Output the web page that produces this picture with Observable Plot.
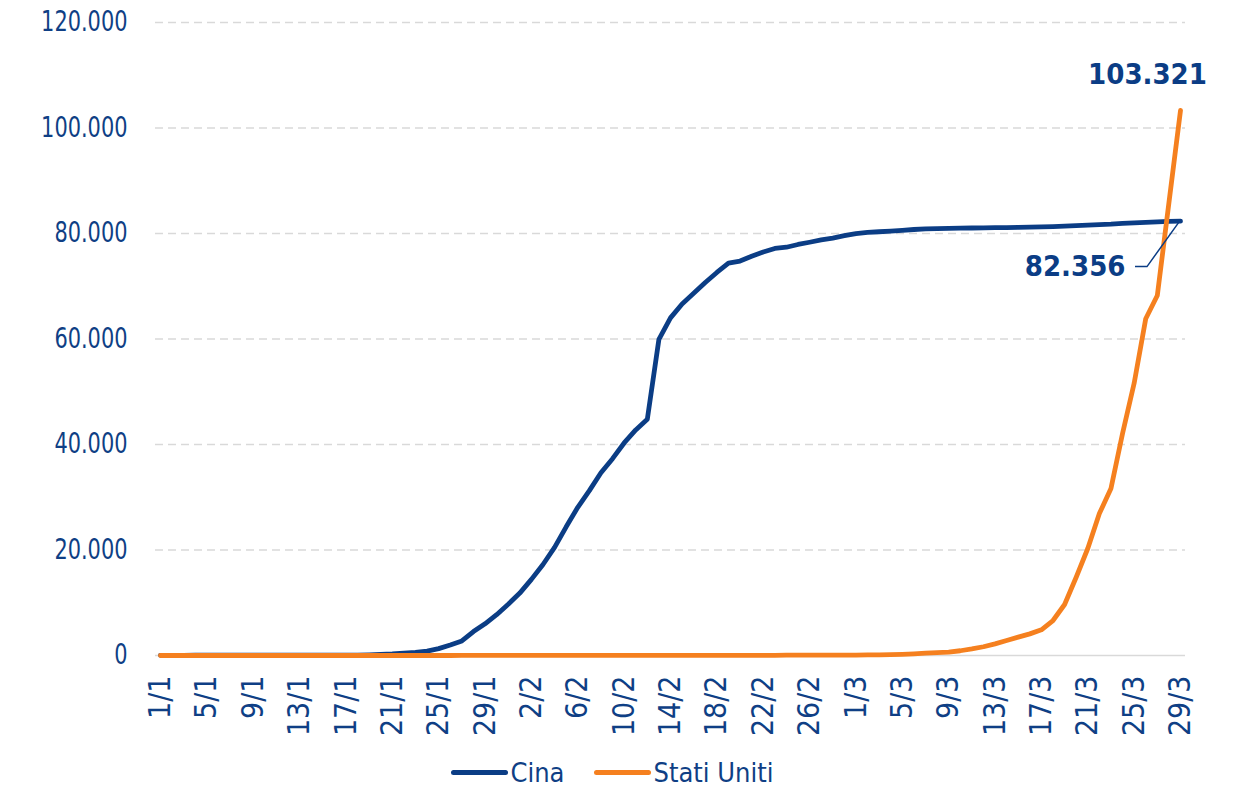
<!DOCTYPE html>
<html>
<head>
<meta charset="utf-8">
<script src="https://cdn.jsdelivr.net/npm/d3@7"></script>
<script src="https://cdn.jsdelivr.net/npm/@observablehq/plot@0.6"></script>
<style>
  html, body { margin: 0; padding: 0; background: #fff; }
  body { width: 1236px; font-family: "DejaVu Sans Condensed", "DejaVu Sans", sans-serif; font-stretch: condensed; }
  #legend { display: flex; justify-content: center; align-items: center; height: 33px;
            font-size: 27px; line-height: 27px; color: #0f3f85; padding-right: 11px; gap: 30px; }
  #legend .item { display: flex; align-items: center; }
  #legend .sw { display: inline-block; width: 57px; height: 5px; border-radius: 3px; margin-right: 2px; }
</style>
</head>
<body>
<div id="chart"></div>
<div id="legend"></div>
<script>
// ---- data (cumulative confirmed cases, 1/1/2020 .. 29/3/2020, daily) ----
const startDay = "2020-01-01";
const seriesNames = ["Cina", "Stati Uniti"];
const seriesColors = ["#0b3d85", "#f5801f"];

const china = [
  // January
  27, 27, 27, 44, 44, 59, 59, 59, 59, 59, 59, 59, 59, 59, 59, 59, 59, 64, 123, 200,
  294, 442, 575, 836, 1296, 1985, 2761, 4537, 6000, 7742, 9729,
  // February
  11833, 14426, 17256, 20498, 24396, 28100, 31255, 34654, 37313, 40291, 42764, 44786,
  59945, 64000, 66650, 68665, 70720, 72614, 74370, 74770, 75670, 76505, 77170, 77400,
  77920, 78340, 78790, 79140, 79590,
  // March
  79990, 80200, 80335, 80460, 80610, 80760, 80870, 80925, 80975, 81005, 81040, 81070,
  81105, 81130, 81170, 81210, 81260, 81310, 81390, 81480, 81570, 81670, 81760, 81900,
  82010, 82120, 82210, 82290, 82356
];

const usa = [
  // January
  0, 0, 0, 0, 0, 0, 0, 0, 0, 0, 0, 0, 0, 0, 0, 0, 0, 0, 0, 0,
  1, 1, 1, 2, 2, 2, 5, 5, 5, 5, 6,
  // February
  7, 8, 11, 11, 11, 12, 12, 12, 12, 12, 13, 13, 14, 15, 15, 15, 15, 15, 15, 15,
  35, 35, 35, 53, 53, 59, 60, 62, 68,
  // March
  75, 100, 124, 158, 221, 319, 435, 541, 630, 900, 1250, 1660, 2210, 2850, 3480, 4100,
  4870, 6630, 9670, 14840, 20280, 26900, 31660, 42100, 51600, 63830, 68250, 85800, 103321
];

const yTicks = [0, 20000, 40000, 60000, 80000, 100000, 120000];
const xTickEvery = 4; // a label every 4 days: 1/1, 5/1, ... 29/3

// ---- build ----
const blue = seriesColors[0], orange = seriesColors[1];
const textColor = "#0f3f85";
const FONT = '"DejaVu Sans Condensed", "DejaVu Sans", sans-serif';
const Y_LABEL_SQUEEZE = 0.83;

const it = d3.formatLocale({decimal: ",", thousands: ".", grouping: [3], currency: ["", "€"]});
const fmtY = it.format(",d");
const fmtX = d3.utcFormat("%-d/%-m");

const start = new Date(startDay + "T00:00:00Z");
const dates = china.map((_, i) => d3.utcDay.offset(start, i));
const chinaRows = china.map((v, i) => ({date: dates[i], value: v}));
const usaRows = usa.map((v, i) => ({date: dates[i], value: v}));
const xTicks = dates.filter((_, i) => i % xTickEvery === 0);
const chinaLast = chinaRows[chinaRows.length - 1];
const usaLast = usaRows[usaRows.length - 1];

const leader = (index, {x, y}) => {
  const px = x(chinaLast.date), py = y(chinaLast.value);
  const g = d3.create("svg:g");
  g.append("path")
    .attr("d", `M${px},${py}L${px - 33},${py + 46}H${px - 45}`)
    .attr("fill", "none").attr("stroke", blue).attr("stroke-width", 1.5);
  return g.node();
};

const chart = Plot.plot({
  width: 1236,
  height: 756,
  marginTop: 22,
  marginBottom: 101,
  marginLeft: 155,
  marginRight: 51,
  style: {fontFamily: FONT, fontSize: "28px", color: textColor, background: "transparent", overflow: "visible"},
  x: {type: "utc", domain: [dates[0], dates[dates.length - 1]], insetLeft: 5, insetRight: 5},
  y: {domain: [0, 120000]},
  marks: [
    Plot.ruleY(yTicks.filter(v => v > 0), {stroke: "#d9d9d9", strokeWidth: 1.5, strokeDasharray: "8,5"}),
    Plot.ruleY([0], {stroke: "#d9d9d9", strokeWidth: 1.5}),
    Plot.axisY({ticks: yTicks, tickSize: 0, tickPadding: 28, tickFormat: fmtY, label: null,
                fontSize: 28, fontFamily: FONT, fill: textColor}),
    Plot.axisX({ticks: xTicks, tickSize: 0, tickPadding: 20, tickRotate: -90, tickFormat: fmtX, label: null,
                fontSize: 30, fontFamily: FONT, fill: textColor}),
    Plot.line(chinaRows, {x: "date", y: "value", stroke: blue, strokeWidth: 4.8,
                          strokeLinejoin: "round", strokeLinecap: "round"}),
    Plot.line(usaRows, {x: "date", y: "value", stroke: orange, strokeWidth: 4.8,
                        strokeLinejoin: "round", strokeLinecap: "round"}),
    leader,
    Plot.text([usaLast], {x: "date", y: "value", text: d => fmtY(d.value), dx: -33, dy: -36,
                          fontWeight: "bold", fontSize: 29, fontFamily: FONT, fill: blue}),
    Plot.text([chinaLast], {x: "date", y: "value", text: d => fmtY(d.value), dx: -55, dy: 46,
                            textAnchor: "end", fontWeight: "bold", fontSize: 29, fontFamily: FONT, fill: blue})
  ]
});
document.getElementById("chart").appendChild(chart);

// y tick labels are narrower in the original: squeeze horizontally around their right anchor
d3.select(chart).selectAll('g[aria-label="y-axis tick label"] text').each(function () {
  const t = this.getAttribute("transform");
  if (t) {
    this.setAttribute("transform", t + ` scale(${Y_LABEL_SQUEEZE},1)`);
  } else {
    const x0 = +this.getAttribute("x") || 0;
    this.setAttribute("transform", `translate(${x0},0) scale(${Y_LABEL_SQUEEZE},1) translate(${-x0},0)`);
  }
});

// legend
const legend = d3.select("#legend");
seriesNames.forEach((name, i) => {
  const item = legend.append("div").attr("class", "item");
  item.append("span").attr("class", "sw").style("background", seriesColors[i]);
  item.append("span").text(name);
});
</script>
</body>
</html>
